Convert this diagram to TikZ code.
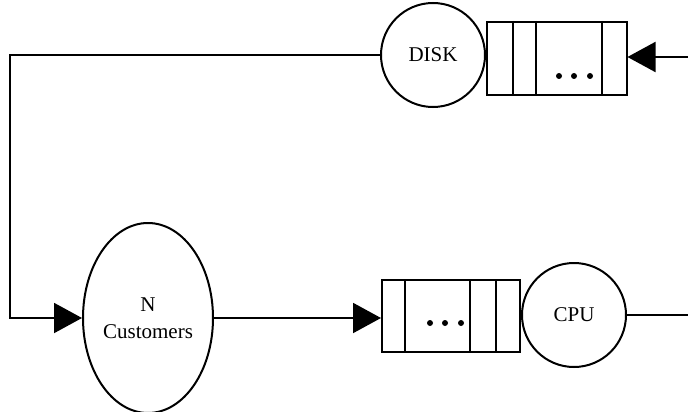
\documentclass[tikz,border=0pt]{standalone}
\usepackage{fontspec}
\setmainfont{Liberation Serif}
\usetikzlibrary{arrows.meta,shapes.geometric}
\begin{document}
\begin{tikzpicture}[x=1pt,y=-1pt,
  line width=2pt,
  server/.style={draw,circle,inner sep=0pt,minimum size=104pt,font=\fontsize{21}{25}\selectfont},
  source/.style={draw,ellipse,inner sep=0pt,minimum width=130pt,minimum height=190pt,
    align=center,font=\fontsize{21}{27}\selectfont},
  queuebox/.style={draw,rectangle,inner sep=0pt,minimum width=140pt,minimum height=73pt},
  flow/.style={-{Triangle[length=28pt,width=30pt]}},
  qdot/.style={fill=black,draw=none}]
\useasboundingbox (0,0) rectangle (688,412);

% disk station with its queue
\node[server] (disk) at (433,55) {DISK};
\node[queuebox] (dq) at (556.5,58.5) {};
\foreach \dx in {27,50,116}
  \draw ([xshift=\dx pt]dq.north west) -- ([xshift=\dx pt]dq.south west);
\foreach \px in {559,574,590}
  \fill[qdot] (\px,76) circle (3pt);

% customer population
\node[source] (cust) at (148,318) {N\\Customers};

% cpu station with its queue
\node[queuebox,minimum width=138pt,minimum height=72pt] (cq) at (451,316) {};
\foreach \dx in {24,89,115}
  \draw ([xshift=\dx pt]cq.north west) -- ([xshift=\dx pt]cq.south west);
\foreach \px in {430,445,461}
  \fill[qdot] (\px,323) circle (3pt);
\node[server] (cpu) at (574,315) {CPU};

% loose ends at the right border and the left return corner
\coordinate (din) at (688,57);
\coordinate (cout) at (688,315);
\coordinate (ret) at (10,200);

% connectors
\draw[flow] (din) -- (din -| dq.east);
\draw[flow] (disk.west) -| (ret) |- (cust.west);
\draw[flow] (cust.east) -- (cust.east -| cq.west);
\draw (cpu.east) -- (cout);
\end{tikzpicture}
\end{document}
